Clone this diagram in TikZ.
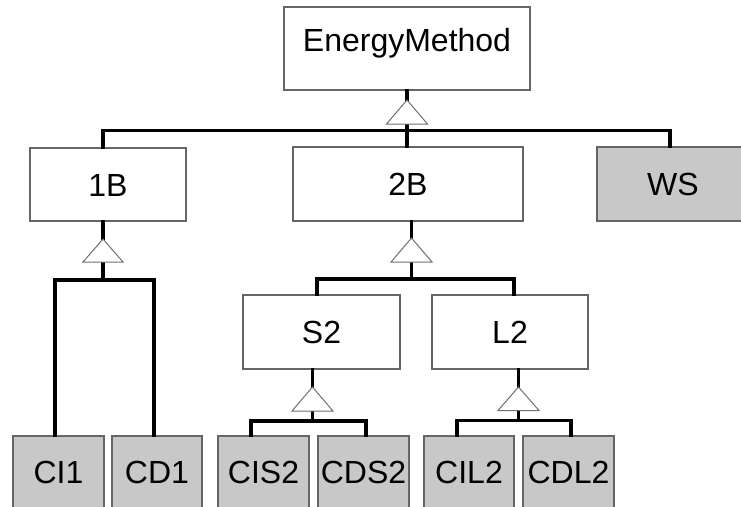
\documentclass[tikz,border=0pt]{standalone}
\usepackage{fontspec}
\setmainfont{Liberation Sans}
\definecolor{boxline}{HTML}{666666}
\definecolor{boxgray}{HTML}{C8C8C8}
\definecolor{triline}{HTML}{707070}
\tikzset{
  box/.style={draw=boxline, line width=1.1pt, fill=white, inner sep=0pt,
    font=\fontsize{32}{32}\selectfont, text height=23pt, text depth=0pt},
  gbox/.style={box, fill=boxgray},
  conn/.style={draw=black, line width=3.8pt, line cap=rect},
  tri/.style={draw=triline, line width=1pt, fill=white, line join=miter}
}
\begin{document}
\begin{tikzpicture}[x=1pt,y=-1pt]
\useasboundingbox (0,0) rectangle (741,506);
\clip (0,0) rectangle (741,506);
% boxes
\node[box, minimum width=246pt, minimum height=83pt, text depth=18pt] (em) at (407,48.5) {EnergyMethod};
\node[box, minimum width=156pt, minimum height=73pt] (b1) at (108,184.5) {1B};
\node[box, minimum width=230pt, minimum height=74pt] (b2) at (408,184) {2B};
\node[gbox, minimum width=152pt, minimum height=74pt] (ws) at (673,184) {WS};
\node[box, minimum width=157pt, minimum height=74pt] (s2) at (321.5,332) {S2};
\node[box, minimum width=156pt, minimum height=74pt] (l2) at (510,332) {L2};
\node[gbox, minimum width=91pt, minimum height=72pt] (ci1) at (58.5,472) {CI1};
\node[gbox, minimum width=90pt, minimum height=72pt] (cd1) at (157,472) {CD1};
\node[gbox, minimum width=91pt, minimum height=72pt] (cis2) at (263.5,472) {CIS2};
\node[gbox, minimum width=91pt, minimum height=72pt] (cds2) at (363.5,472) {CDS2};
\node[gbox, minimum width=90pt, minimum height=72pt] (cil2) at (469,472) {CIL2};
\node[gbox, minimum width=91pt, minimum height=72pt] (cdl2) at (568.5,472) {CDL2};
% triangle apexes, bases and junctions
\coordinate (t0) at (407,100);   \coordinate (t0b) at (407,124);   \coordinate (j0) at (407,130.5);
\coordinate (t1) at (103,239);   \coordinate (t1b) at (103,262);   \coordinate (j1) at (103,280);
\coordinate (t2) at (411.5,238); \coordinate (t2b) at (411.5,262); \coordinate (j2) at (411.5,279);
\coordinate (t3) at (312.5,387); \coordinate (t3b) at (312.5,411); \coordinate (j3) at (312.5,421);
\coordinate (t4) at (518.5,387); \coordinate (t4b) at (518.5,410.5); \coordinate (j4) at (518.5,420.5);
% connectors
\draw[conn] (em.south -| t0) -- (t0);
\draw[conn] (t0b) -- (j0);
\draw[conn] (b1.north -| t1) |- (j0) -| ([xshift=-3pt]ws.north);
\draw[conn] (j0) -- (b2.north -| j0);
\draw[conn] (b1.south -| t1) -- (t1);
\draw[conn] (t1b) -- (j1);
\draw[conn] ([xshift=-3.5pt]ci1.north) |- (j1) -| ([xshift=-3pt]cd1.north);
\draw[conn] (b2.south -| t2) -- (t2);
\draw[conn] (t2b) -- (j2);
\draw[conn] ([xshift=-4.5pt]s2.north) |- (j2) -| ([xshift=4pt]l2.north);
\draw[conn] (s2.south -| t3) -- (t3);
\draw[conn] (t3b) -- (j3);
\draw[conn] ([xshift=-12.5pt]cis2.north) |- (j3) -| ([xshift=2.5pt]cds2.north);
\draw[conn] (l2.south -| t4) -- (t4);
\draw[conn] (t4b) -- (j4);
\draw[conn] ([xshift=-12pt]cil2.north) |- (j4) -| ([xshift=2.5pt]cdl2.north);
% inheritance triangles
\draw[tri] (t0) -- ([xshift=-20.5pt]t0b) -- ([xshift=20.5pt]t0b) -- cycle;
\draw[tri] (t1) -- ([xshift=-20pt]t1b) -- ([xshift=20pt]t1b) -- cycle;
\draw[tri] (t2) -- ([xshift=-20.5pt]t2b) -- ([xshift=20.5pt]t2b) -- cycle;
\draw[tri] (t3) -- ([xshift=-20.5pt]t3b) -- ([xshift=20.5pt]t3b) -- cycle;
\draw[tri] (t4) -- ([xshift=-20.5pt]t4b) -- ([xshift=20.5pt]t4b) -- cycle;
\end{tikzpicture}
\end{document}
